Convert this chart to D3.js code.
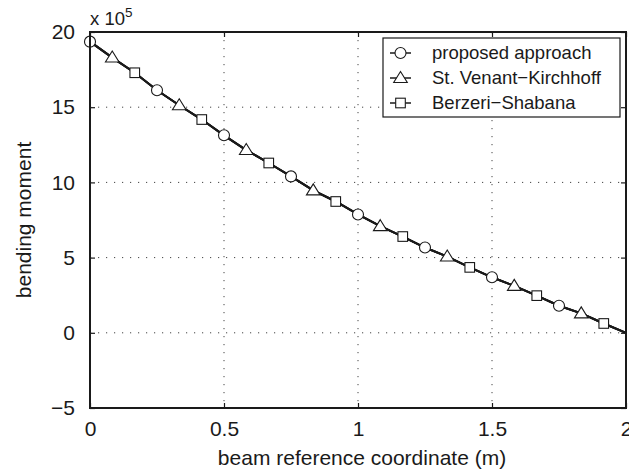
<!DOCTYPE html>
<html>
<head>
<meta charset="utf-8">
<script src="https://cdn.jsdelivr.net/npm/d3@7"></script>
<style>
  body { margin: 0; background: #fff; }
  text { font-family: 'Liberation Sans', Arial, sans-serif; fill: #1a1a1a; }
</style>
</head>
<body>
<div id="chart"></div>
<script>
// bending moment values (x 10^5)
const proposedX = [0, 0.25, 0.5, 0.75, 1, 1.25, 1.5, 1.75]
const proposedY = [19.36, 16.13, 13.13, 10.4, 7.87, 5.67, 3.69, 1.8]

const venantX = [0.083, 0.333, 0.583, 0.833, 1.083, 1.333, 1.583, 1.833]
const venantY = [18.3, 15.13, 12.15, 9.47, 7.09, 5.07, 3.12, 1.29]

const berzeriX = [0.167, 0.417, 0.667, 0.917, 1.167, 1.417, 1.667, 1.917]
const berzeriY = [17.29, 14.18, 11.29, 8.73, 6.4, 4.35, 2.47, 0.62]

// beam tip, where the moment reaches zero
const tipPoint = [2, 0]

const seriesNames = ['proposed approach', 'St. Venant\u2212Kirchhoff', 'Berzeri\u2212Shabana']
const markerTypes = ['circle', 'triangle', 'square']

const xTicks = [0, 0.5, 1, 1.5, 2]
const yTicks = [-5, 0, 5, 10, 15, 20]

const margin = { top: 32, left: 90, right: 3, bottom: 65 }
const width = 629 - margin.left - margin.right
const height = 473 - margin.top - margin.bottom
const ink = '#1a1a1a'

const svg = d3
  .select('#chart')
  .append('svg')
  .attr('width', 629)
  .attr('height', 473)

const g = svg
  .append('g')
  .attr('transform', 'translate(' + margin.left + ',' + margin.top + ')')

const xPositionScale = d3.scaleLinear().domain([0, 2]).range([0, width])
const yPositionScale = d3.scaleLinear().domain([-5, 20]).range([height, 0])

// dotted grid
g.selectAll('.vgrid')
  .data(xTicks.slice(1, -1))
  .enter()
  .append('line')
  .attr('x1', d => xPositionScale(d))
  .attr('x2', d => xPositionScale(d))
  .attr('y1', 0)
  .attr('y2', height)
  .attr('stroke', '#444')
  .attr('stroke-width', 1)
  .attr('stroke-dasharray', '1.2,6.8')

g.selectAll('.hgrid')
  .data(yTicks.slice(1, -1))
  .enter()
  .append('line')
  .attr('y1', d => yPositionScale(d))
  .attr('y2', d => yPositionScale(d))
  .attr('x1', 0)
  .attr('x2', width)
  .attr('stroke', '#444')
  .attr('stroke-width', 1)
  .attr('stroke-dasharray', '1.2,6.8')

const series = [
  { x: proposedX, y: proposedY },
  { x: venantX, y: venantY },
  { x: berzeriX, y: berzeriY }
]

// the three solutions coincide, so the curve runs through all read points
const curve = []
series.forEach(function(s) {
  s.x.forEach((x, i) => curve.push([x, s.y[i]]))
})
curve.push(tipPoint)
curve.sort((a, b) => a[0] - b[0])

const line = d3
  .line()
  .x(d => xPositionScale(d[0]))
  .y(d => yPositionScale(d[1]))

series.forEach(function() {
  g.append('path')
    .datum(curve)
    .attr('d', line)
    .attr('fill', 'none')
    .attr('stroke', ink)
    .attr('stroke-width', 2)
})

function drawMarker(sel, type) {
  if (type === 'circle') {
    sel.append('circle').attr('r', 5.5)
  } else if (type === 'triangle') {
    sel.append('path').attr('d', 'M0,-6.5L6.8,4.5L-6.8,4.5Z')
  } else {
    sel.append('rect').attr('x', -4.8).attr('y', -4.8).attr('width', 9.6).attr('height', 9.6)
  }
  sel.selectAll('*')
    .attr('fill', '#fff')
    .attr('stroke', ink)
    .attr('stroke-width', 1.1)
}

series.forEach(function(s, k) {
  s.x.forEach(function(x, i) {
    const m = g.append('g')
      .attr('transform', 'translate(' + xPositionScale(x) + ',' + yPositionScale(s.y[i]) + ')')
    drawMarker(m, markerTypes[k])
  })
})

// axes with inward ticks
const xAxis = d3.axisBottom(xPositionScale)
  .tickValues(xTicks)
  .tickFormat(d => String(d))
  .tickSizeInner(-5)
  .tickSizeOuter(0)
  .tickPadding(13)

g.append('g')
  .attr('class', 'axis x-axis')
  .attr('transform', 'translate(0,' + height + ')')
  .call(xAxis)

const yAxis = d3.axisLeft(yPositionScale)
  .tickValues(yTicks)
  .tickFormat(d => (d < 0 ? '\u2212' + Math.abs(d) : String(d)))
  .tickSizeInner(-5)
  .tickSizeOuter(0)
  .tickPadding(15)

g.append('g')
  .attr('class', 'axis y-axis')
  .call(yAxis)

g.append('g')
  .attr('class', 'axis')
  .call(d3.axisTop(xPositionScale).tickValues(xTicks).tickFormat('').tickSizeInner(-5).tickSizeOuter(0))

g.append('g')
  .attr('class', 'axis')
  .attr('transform', 'translate(' + width + ',0)')
  .call(d3.axisRight(yPositionScale).tickValues(yTicks).tickFormat('').tickSizeInner(-5).tickSizeOuter(0))

g.selectAll('.axis .domain').remove()
g.selectAll('.axis line').attr('stroke', ink).attr('stroke-width', 1.2)
g.selectAll('.axis text').attr('font-size', 21).attr('fill', ink)
  .style('font-family', "'Liberation Sans', Arial, sans-serif")

// box
g.append('rect')
  .attr('x', 0)
  .attr('y', 0)
  .attr('width', width)
  .attr('height', height)
  .attr('fill', 'none')
  .attr('stroke', ink)
  .attr('stroke-width', 2)

// axis labels
svg.append('text')
  .attr('x', margin.left + width / 2 + 4)
  .attr('y', 465)
  .attr('text-anchor', 'middle')
  .attr('font-size', 21)
  .text('beam reference coordinate (m)')

svg.append('text')
  .attr('transform', 'translate(31,' + (margin.top + height / 2) + ') rotate(-90)')
  .attr('text-anchor', 'middle')
  .attr('font-size', 21)
  .text('bending moment')

// exponent label
const mult = svg.append('text')
  .attr('x', margin.left)
  .attr('y', 25)
  .attr('font-size', 18.5)
mult.append('tspan').text('x 10')
mult.append('tspan').attr('dy', -8).attr('font-size', 13.5).text('5')

// legend
const legend = svg.append('g').attr('transform', 'translate(383,38)')
legend.append('rect')
  .attr('width', 237)
  .attr('height', 79)
  .attr('fill', '#fff')
  .attr('stroke', ink)
  .attr('stroke-width', 1.2)

seriesNames.forEach(function(name, k) {
  const row = legend.append('g').attr('transform', 'translate(0,' + (15 + k * 25) + ')')
  row.append('line')
    .attr('x1', 7)
    .attr('x2', 28)
    .attr('stroke', ink)
    .attr('stroke-width', 1.5)
  const m = row.append('g').attr('transform', 'translate(17.5,0)')
  drawMarker(m, markerTypes[k])
  row.append('text')
    .attr('x', 49)
    .attr('dy', '0.35em')
    .attr('font-size', 18.5)
    .text(name)
})
</script>
</body>
</html>
